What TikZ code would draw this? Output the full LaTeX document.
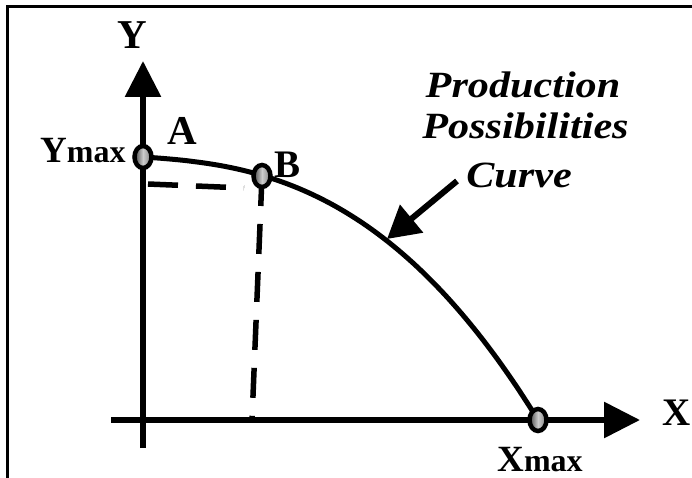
\documentclass[tikz,border=0pt]{standalone}
\usepackage{fontspec}
\setmainfont{Liberation Serif}
\usetikzlibrary{arrows.meta,shapes.geometric}
\tikzset{
  axisline/.style={line width=6pt,-{Triangle[length=36pt,width=35pt]}},
  ppcurve/.style={line width=5pt},
  guide/.style={line width=5.5pt,dash pattern=on 30pt off 18pt},
  callout/.style={line width=6pt,-{Triangle[length=32pt,width=35pt]}},
  dot/.style={ellipse,draw=black,line width=4.5pt,minimum width=17pt,minimum height=22pt,inner sep=0pt,
    left color=black!72,right color=black!50,middle color=black!20},
  lab/.style={inner sep=0pt,font=\bfseries\fontsize{41}{44}\selectfont},
  smalllab/.style={inner sep=0pt,font=\bfseries\fontsize{39}{42}\selectfont},
  caption/.style={inner sep=0pt,anchor=base,xscale=1.14,font=\bfseries\itshape\fontsize{37}{40}\selectfont}
}
\begin{document}
\begin{tikzpicture}[x=1pt,y=-1pt]
\useasboundingbox (0,0) rectangle (692,478);
\fill[white] (0,0) rectangle (692,478);
% frame (left and top edges)
\draw[line width=3pt] (7,480) -- (7,7) -- (694,7);
% key points
\coordinate (pA) at (143,157);
\coordinate (pB) at (262,176);
\coordinate (pX) at (538,420);
\coordinate (yb) at (143,448);
\coordinate (yt) at (143,61);
\coordinate (xl) at (111,420);
\coordinate (xr) at (640,420);
\coordinate (h1) at (148,184);
\coordinate (h2) at (244,188);
\coordinate (v2) at (252,420);
\coordinate (c1) at (457,181);
\coordinate (c2) at (387,239);
% axes
\draw[axisline] (yb) -- (yt);
\draw[axisline] (xl) -- (xr);
% guides
\draw[guide] (h1) -- (h2);
\draw[guide] (pB) -- (v2);
% curve
\draw[ppcurve] plot[domain=0:1,samples=80,variable=\u] ({143+395*\u},{420-263*(1-0.1*\u-0.9*(\u)^2.6)});
% callout arrow
\draw[callout] (c1) -- (c2);
% dots
\node[dot] (A) at (pA) {};
\node[dot] (B) at (pB) {};
\node[dot] (Xm) at (pX) {};
% labels
\node[lab,anchor=base] (ylab) at (132.5,49) {Y};
\node[smalllab,anchor=base] (xlab) at (677,425) {X};
\node[lab,anchor=base] (alab) at (182.5,145) {A};
\node[smalllab,anchor=base] (blab) at (288,178) {B};
\node[inner sep=0pt,anchor=base west,font=\bfseries] (ymax) at (40,163) {\fontsize{37}{40}\selectfont Y\fontsize{32}{34}\selectfont max};
\node[inner sep=0pt,anchor=base,font=\bfseries] (xmax) at (540,471) {\fontsize{37}{40}\selectfont X\fontsize{32}{34}\selectfont max};
\node[caption] (t1) at (523,98) {Production};
\node[caption] (t2) at (525.5,139) {Possibilities};
\node[caption] (t3) at (519,188) {Curve};
\end{tikzpicture}
\end{document}
